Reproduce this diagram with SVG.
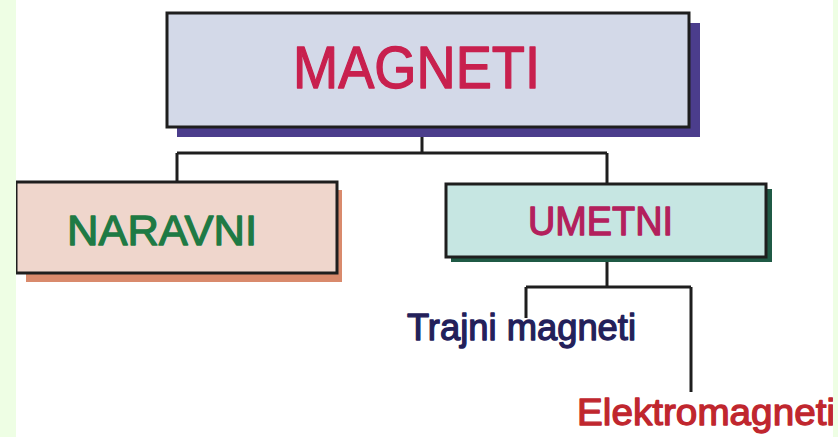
<svg xmlns="http://www.w3.org/2000/svg" width="838" height="437" viewBox="0 0 838 437">
<style>
.box{stroke:#1e1e1e;stroke-width:3}
.ln{fill:none;stroke:#1e1e1e;stroke-width:3}
text{font-family:"Liberation Sans",Arial,sans-serif;stroke-width:1.3;stroke-linejoin:round}
</style>
<rect x="0" y="0" width="838" height="437" fill="#ffffff"/>
<g id="connectors">
<path class="ln" d="M422,136 V153 M177,153 H607 M177,153 V182 M607,153 V184"/>
<path class="ln" d="M607,262 V287 M526,287 H691 M526,287 V318 M691,287 V392"/>
</g>
<g id="magneti">
<rect x="177" y="23" width="523" height="114" fill="#4b3d8c"/>
<rect class="box" x="167" y="13" width="522" height="114" fill="#d3d9e8"/>
<text x="293" y="88" font-size="60" fill="#c8204e" stroke="#c8204e" textLength="247" lengthAdjust="spacingAndGlyphs">MAGNETI</text>
</g>
<g id="naravni">
<rect x="26" y="190" width="316" height="92" fill="#d98a6c"/>
<rect class="box" x="16" y="182" width="321" height="91" fill="#efd6cc"/>
<text x="67" y="245" font-size="42" fill="#1e7a44" stroke="#1e7a44" textLength="190" lengthAdjust="spacingAndGlyphs">NARAVNI</text>
</g>
<g id="umetni">
<rect x="451" y="189" width="321" height="73" fill="#1f5a45"/>
<rect class="box" x="446" y="184" width="320" height="73" fill="#c6e6e2"/>
<text x="528" y="235" font-size="40" fill="#b3205c" stroke="#b3205c" textLength="145" lengthAdjust="spacingAndGlyphs">UMETNI</text>
</g>
<g id="trajni">
<text x="407" y="340" font-size="37" fill="#23205a" stroke="#23205a" textLength="229" lengthAdjust="spacingAndGlyphs">Trajni magneti</text>
</g>
<g id="elektro">
<text x="577" y="425" font-size="37" fill="#c0262e" stroke="#c0262e" textLength="258" lengthAdjust="spacingAndGlyphs">Elektromagneti</text>
</g>
<rect x="0" y="0" width="16" height="437" fill="#eefee4"/>
<rect x="833" y="0" width="5" height="437" fill="#eefee4"/>
</svg>
